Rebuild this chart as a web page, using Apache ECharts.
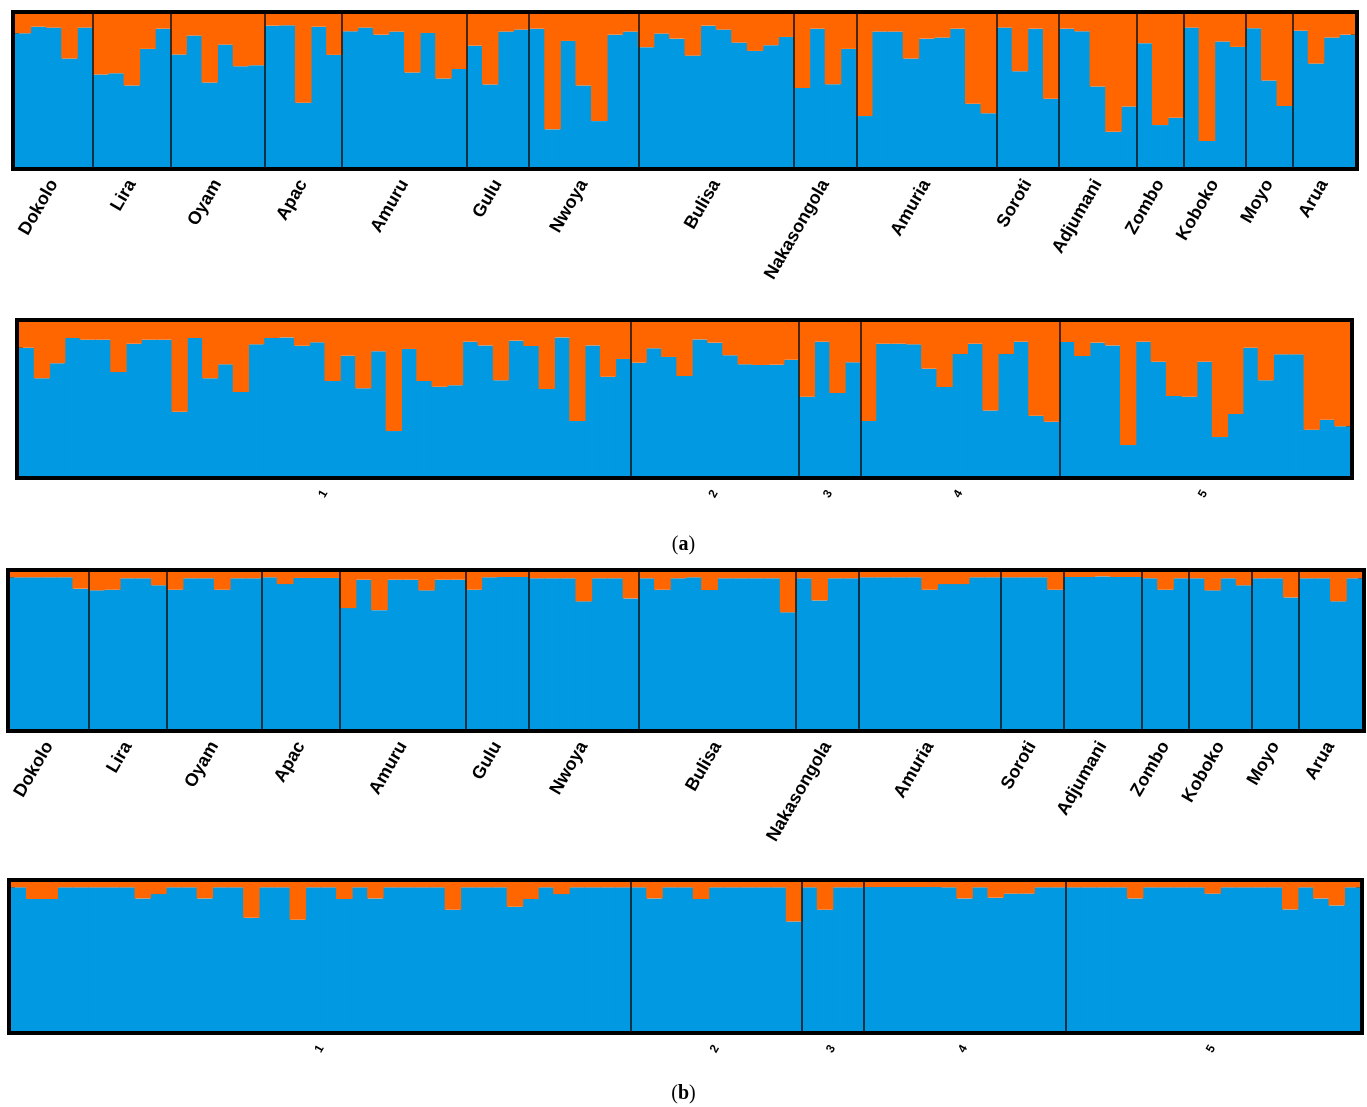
<!DOCTYPE html>
<html>
<head>
<meta charset="utf-8">
<script src="https://cdn.jsdelivr.net/npm/echarts@6/dist/echarts.min.js"></script>
<style>html,body{margin:0;padding:0;background:#fff;}#c{width:1367px;height:1107px;}</style>
</head>
<body>
<div id="c"></div>
<script>
const popNames = ['Dokolo','Lira','Oyam','Apac','Amuru','Gulu','Nwoya','Bulisa','Nakasongola','Amuria','Soroti','Adjumani','Zombo','Koboko','Moyo','Arua'];
const popSizes = [5,5,6,5,8,4,7,10,4,9,4,5,3,4,3,4];
const clusterNames = ['1','2','3','4','5'];
const clusterSizes = [40,11,4,13,19];

// (a) populations: blue-cluster membership per individual
const blueA_pop = [
  0.874,0.917,0.911,0.709,0.911,
  0.604,0.613,0.533,0.772,0.904,
  0.735,0.859,0.552,0.800,0.659,0.665,
  0.924,0.926,0.420,0.917,0.733,
  0.887,0.911,0.865,0.885,0.617,0.876,0.578,0.641,
  0.793,0.539,0.885,0.898,
  0.904,0.246,0.824,0.533,0.300,0.865,0.885,
  0.783,0.872,0.839,0.728,0.924,0.898,0.813,0.759,0.796,0.850,
  0.517,0.904,0.541,0.772,
  0.333,0.885,0.885,0.709,0.839,0.846,0.904,0.413,0.352,
  0.911,0.626,0.904,0.446,
  0.904,0.887,0.526,0.230,0.396,
  0.809,0.274,0.322,
  0.911,0.170,0.820,0.785,
  0.907,0.565,0.398,
  0.891,0.676,0.846,0.865
];
// (a) clusters
const blueA_cluster = [
  0.833,0.634,0.732,0.896,0.885,0.885,0.675,0.859,0.885,0.885,
  0.418,0.896,0.634,0.725,0.545,0.855,0.896,0.900,0.846,0.868,
  0.617,0.781,0.569,0.810,0.292,0.825,0.617,0.580,0.589,0.872,
  0.848,0.621,0.879,0.844,0.565,0.900,0.357,0.848,0.645,0.760,
  0.736,0.829,0.773,0.649,0.887,0.866,0.784,0.725,0.721,0.723,0.755,
  0.515,0.872,0.539,0.738,
  0.357,0.859,0.859,0.855,0.697,0.578,0.792,0.859,0.426,0.792,0.872,0.392,0.353,
  0.870,0.779,0.866,0.848,0.201,0.872,0.742,0.519,0.515,0.742,0.253,0.403,0.833,0.621,0.790,0.790,0.301,0.366,0.323
];
// (b) populations
const blueB_pop = [
  0.966,0.966,0.966,0.966,0.894,
  0.883,0.887,0.960,0.960,0.915,
  0.887,0.960,0.960,0.887,0.960,0.960,
  0.966,0.923,0.962,0.962,0.962,
  0.770,0.951,0.757,0.951,0.951,0.883,0.951,0.951,
  0.887,0.966,0.968,0.968,
  0.960,0.960,0.960,0.813,0.960,0.960,0.832,
  0.960,0.887,0.960,0.966,0.885,0.960,0.960,0.960,0.960,0.743,
  0.960,0.819,0.960,0.960,
  0.966,0.966,0.966,0.966,0.887,0.923,0.923,0.966,0.966,
  0.966,0.966,0.966,0.887,
  0.968,0.968,0.972,0.968,0.968,
  0.960,0.887,0.960,
  0.960,0.883,0.960,0.915,
  0.960,0.960,0.838,
  0.960,0.960,0.813,0.960
];
// (b) clusters
const blueB_cluster = [
  0.964,0.886,0.886,0.964,0.964,0.964,0.964,0.964,0.890,0.919,
  0.964,0.964,0.890,0.964,0.964,0.760,0.964,0.964,0.747,0.964,
  0.964,0.886,0.964,0.890,0.964,0.964,0.964,0.964,0.814,0.964,
  0.964,0.964,0.834,0.886,0.964,0.919,0.964,0.964,0.964,0.964,
  0.964,0.890,0.964,0.964,0.886,0.964,0.964,0.964,0.964,0.964,0.735,
  0.964,0.814,0.964,0.964,
  0.966,0.966,0.966,0.966,0.966,0.964,0.890,0.964,0.895,0.922,0.922,0.964,0.964,
  0.964,0.964,0.964,0.964,0.890,0.964,0.964,0.964,0.964,0.922,0.964,0.964,0.964,0.964,0.816,0.964,0.890,0.843,0.964
];

const BLUE = '#0299E3', ORANGE = '#FF6600';
const grids = [], xAxes = [], yAxes = [], series = [];

function addPanel(rect, blue, names, sizes, fontSize, margin) {
  const g = grids.length;
  grids.push(Object.assign({show: true, borderColor: '#000', borderWidth: 8, backgroundColor: 'transparent'}, rect));
  const n = blue.length;
  const bw = rect.width / n + 1; // slight overlap hides anti-aliasing seams
  const xCat = xAxes.length;
  xAxes.push({type: 'category', gridIndex: g, data: blue.map((_, i) => i), show: false, boundaryGap: true});
  const starts = []; let c = 0;
  sizes.forEach(s => { starts.push(c); c += s; });
  const centers = sizes.map((s, i) => starts[i] + s / 2);
  const xVal = xAxes.length;
  xAxes.push({
    type: 'value', gridIndex: g, min: 0, max: n, position: 'bottom',
    axisLine: {show: false}, axisTick: {show: false}, splitLine: {show: false},
    axisLabel: {
      customValues: centers,
      formatter: v => { const k = centers.findIndex(x => Math.abs(x - v) < 1e-6); return k >= 0 ? names[k] : ''; },
      rotate: 60, fontSize: fontSize, fontWeight: 'bold', color: '#000', fontFamily: 'Liberation Sans', margin: margin
    }
  });
  const y = yAxes.length;
  yAxes.push({type: 'value', gridIndex: g, min: 0, max: 1, show: false});
  series.push({type: 'bar', xAxisIndex: xCat, yAxisIndex: y, stack: 's' + g, data: blue, barWidth: bw,
    itemStyle: {color: BLUE}, barGap: 0, silent: true, animation: false});
  series.push({type: 'bar', xAxisIndex: xCat, yAxisIndex: y, stack: 's' + g, data: blue.map(v => +(1 - v).toFixed(3)), barWidth: bw,
    itemStyle: {color: ORANGE}, barGap: 0, silent: true, animation: false});
  series.push({type: 'line', xAxisIndex: xVal, yAxisIndex: y, data: [], symbol: 'none', animation: false,
    markLine: {silent: true, symbol: 'none', animation: false, label: {show: false},
      lineStyle: {color: '#111', width: 1.5, type: 'solid'},
      data: starts.slice(1).map(s => ({xAxis: s}))}});
}

addPanel({left: 15, top: 14, width: 1340, height: 153}, blueA_pop, popNames, popSizes, 18, 14);
addPanel({left: 19, top: 322, width: 1331, height: 154}, blueA_cluster, clusterNames, clusterSizes, 12, 15);
addPanel({left: 10, top: 572, width: 1352, height: 157}, blueB_pop, popNames, popSizes, 18, 14);
addPanel({left: 11, top: 882, width: 1349, height: 149}, blueB_cluster, clusterNames, clusterSizes, 12, 15);

const capStyle = {
  rich: {
    p: {fontFamily: 'Liberation Serif', fontSize: 20, color: '#000'},
    b: {fontFamily: 'Liberation Serif', fontSize: 20, fontWeight: 'bold', color: '#000'}
  }
};
const chart = echarts.init(document.getElementById('c'), null, {renderer: 'canvas'});
chart.setOption({
  animation: false,
  grid: grids, xAxis: xAxes, yAxis: yAxes, series: series,
  graphic: [
    {type: 'text', left: 'center', top: 535, style: Object.assign({text: '{p|(}{b|a}{p|)}'}, capStyle)},
    {type: 'text', left: 'center', top: 1084, style: Object.assign({text: '{p|(}{b|b}{p|)}'}, capStyle)}
  ]
});
</script>
</body>
</html>
